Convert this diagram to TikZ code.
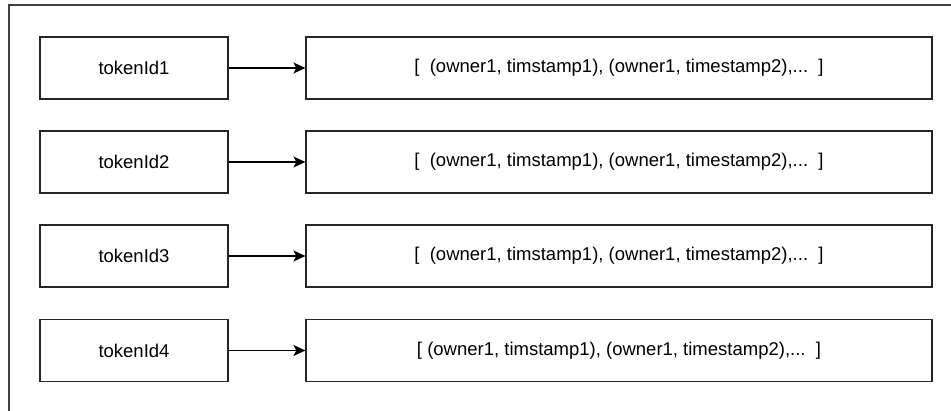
\documentclass[tikz,border=0pt]{standalone}
\usepackage{fontspec}
\setmainfont{Liberation Sans}
\usetikzlibrary{arrows.meta}
\begin{document}
\begin{tikzpicture}[x=1pt,y=-1pt,
  keybox/.style={draw=black!85, line width=1.2pt, minimum width=188pt, minimum height=62pt, inner sep=0pt, font=\fontsize{18.5}{22}\selectfont},
  listbox/.style={draw=black!85, line width=1.2pt, minimum width=626pt, minimum height=62pt, inner sep=0pt, font=\fontsize{18.5}{22}\selectfont},
  link/.style={line width=1.2pt, -{Stealth[length=12pt,width=11pt,inset=3pt]}}]
  \useasboundingbox (0,0) rectangle (951,411);
  % outer frame, only its top and left edges lie inside the page
  \draw[black!75, line width=1.2pt] (951,5) -- (9,5) -- (9,411);
  \foreach \i/\y in {1/68, 2/162, 3/256} {
    \node[keybox] (k\i) at (134,\y) {tokenId\i};
    \node[listbox] (v\i) at (619,\y) {[\ \ (owner1, timstamp1), (owner1, timestamp2),...\ \ ]};
    \draw[link] (k\i) -- (v\i);
  }
  \node[keybox] (k4) at (134,350.5) {tokenId4};
  \node[listbox] (v4) at (619,350.5) {[ (owner1, timstamp1), (owner1, timestamp2),...\ \ ]};
  \draw[link] (k4) -- (v4);
\end{tikzpicture}
\end{document}
